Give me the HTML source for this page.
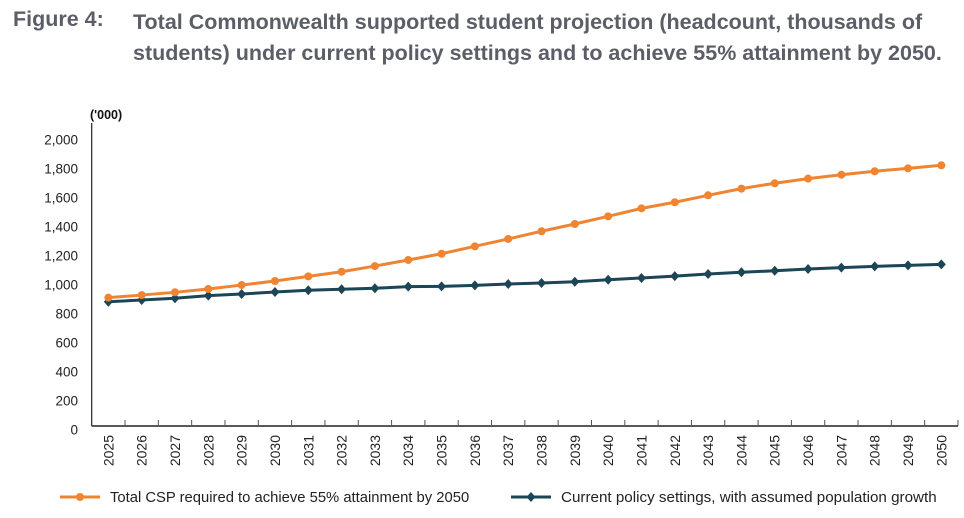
<!DOCTYPE html>
<html><head><meta charset="utf-8">
<style>
html,body{margin:0;padding:0;background:#fff;}
body{width:964px;height:518px;overflow:hidden;position:relative;font-family:"Liberation Sans",sans-serif;}
.t{position:absolute;font-weight:bold;font-size:21.5px;color:#5b5e66;white-space:nowrap;}
</style></head>
<body>
<div class="t" style="left:13px;top:7px;">Figure 4:</div>
<div class="t" style="left:133px;top:7px;line-height:31px;">Total Commonwealth supported student projection (headcount, thousands of<br>students) under current policy settings and to achieve 55% attainment by 2050.</div>
<svg id="chart" width="964" height="518" style="position:absolute;left:0;top:0;" xmlns="http://www.w3.org/2000/svg"></svg>
<script>
const years=["2025","2026","2027","2028","2029","2030","2031","2032","2033","2034","2035","2036","2037","2038","2039","2040","2041","2042","2043","2044","2045","2046","2047","2048","2049","2050"];
const cspTarget=[885,903,922,945,972,1000,1032,1064,1103,1145,1188,1239,1290,1343,1393,1446,1501,1543,1591,1637,1674,1706,1733,1757,1777,1798];
const currentPolicy=[857,869,881,899,910,924,936,943,950,961,963,970,979,986,995,1009,1021,1034,1048,1060,1071,1083,1092,1101,1108,1115];
const yTicks=[0,200,400,600,800,1000,1200,1400,1600,1800,2000];
const yTickLabels=["0","200","400","600","800","1,000","1,200","1,400","1,600","1,800","2,000"];

const svg=document.getElementById('chart');
const NS='http://www.w3.org/2000/svg';
const X0=91.7,X1=958,Y0=426,YTOP=123;
const band=(X1-X0)/years.length;
function xs(i){return X0+band*(i+0.5);}
function ys(v){return Y0-v*0.145;}
function mk(tag,attrs){const e=document.createElementNS(NS,tag);for(const k in attrs)e.setAttribute(k,attrs[k]);svg.appendChild(e);return e;}

let t=mk('text',{x:90,y:119,'font-size':12.5,'font-weight':'bold',fill:'#111','font-family':'Liberation Sans, sans-serif'});
t.textContent="('000)";



let ya=mk('line',{x1:X0,y1:YTOP,x2:X0,y2:Y0,stroke:'#222','stroke-width':1.2});


let xa=mk('line',{x1:X0,y1:Y0,x2:X1,y2:Y0,stroke:'#222','stroke-width':1.5});



yTicks.forEach((v,i)=>{
  const l=mk('text',{x:78,y:ys(v)+8.5,'text-anchor':'end','font-size':13.5,fill:'#222','font-family':'Liberation Sans, sans-serif'});
  l.textContent=yTickLabels[i];
  
  
});
years.forEach((y,i)=>{
  if(i>0){const tk=mk('line',{x1:X0+band*i,y1:Y0-6,x2:X0+band*i,y2:Y0,stroke:'#555','stroke-width':1});
    
    }
  const cx=xs(i),cy=435;
  const l=mk('text',{x:cx,y:cy,'text-anchor':'end','font-size':14,fill:'#222','font-family':'Liberation Sans, sans-serif',transform:`rotate(-90 ${cx} ${cy}) translate(0 5)`});
  l.textContent=y;
  
  
});
const tkEnd=mk('line',{x1:X1,y1:Y0-6,x2:X1,y2:Y0,stroke:'#555','stroke-width':1});



function series(vals,color,name,shape){
  const p=mk('polyline',{points:vals.map((v,i)=>xs(i)+','+ys(v)).join(' '),fill:'none',stroke:color,'stroke-width':3,'stroke-linejoin':'round'});
  
  
  vals.forEach((v,i)=>{
    let m;
    if(shape==='circle') m=mk('circle',{cx:xs(i),cy:ys(v),r:4,fill:color});
    else {const x=xs(i),y=ys(v);m=mk('polygon',{points:`${x},${y-5} ${x+4.5},${y} ${x},${y+5} ${x-4.5},${y}`,fill:color});}
    
    
  });
}
series(currentPolicy,'#1c4556','current-policy','diamond');
series(cspTarget,'#ef8433','csp-target','circle');

function legend(x,color,shape,label,name,fs){
  const g=document.createElementNS(NS,'g');svg.appendChild(g);
  
  
  const l=document.createElementNS(NS,'line');
  [['x1',x],['y1',497],['x2',x+40],['y2',497],['stroke',color],['stroke-width',3]].forEach(a=>l.setAttribute(a[0],a[1]));g.appendChild(l);
  let m;
  if(shape==='circle'){m=document.createElementNS(NS,'circle');m.setAttribute('cx',x+20);m.setAttribute('cy',497);m.setAttribute('r',4);}
  else{m=document.createElementNS(NS,'polygon');m.setAttribute('points',`${x+20},492 ${x+24.5},497 ${x+20},502 ${x+15.5},497`);}
  m.setAttribute('fill',color);g.appendChild(m);
  const t=document.createElementNS(NS,'text');
  [['x',x+50],['y',502],['font-size',fs],['fill','#222'],['font-family','Liberation Sans, sans-serif']].forEach(a=>t.setAttribute(a[0],a[1]));
  t.textContent=label;g.appendChild(t);
}
legend(60,'#ef8433','circle','Total CSP required to achieve 55% attainment by 2050','legend-csp-target',14.8);
legend(511,'#1c4556','diamond','Current policy settings, with assumed population growth','legend-current-policy',15.2);
</script>
</body></html>
